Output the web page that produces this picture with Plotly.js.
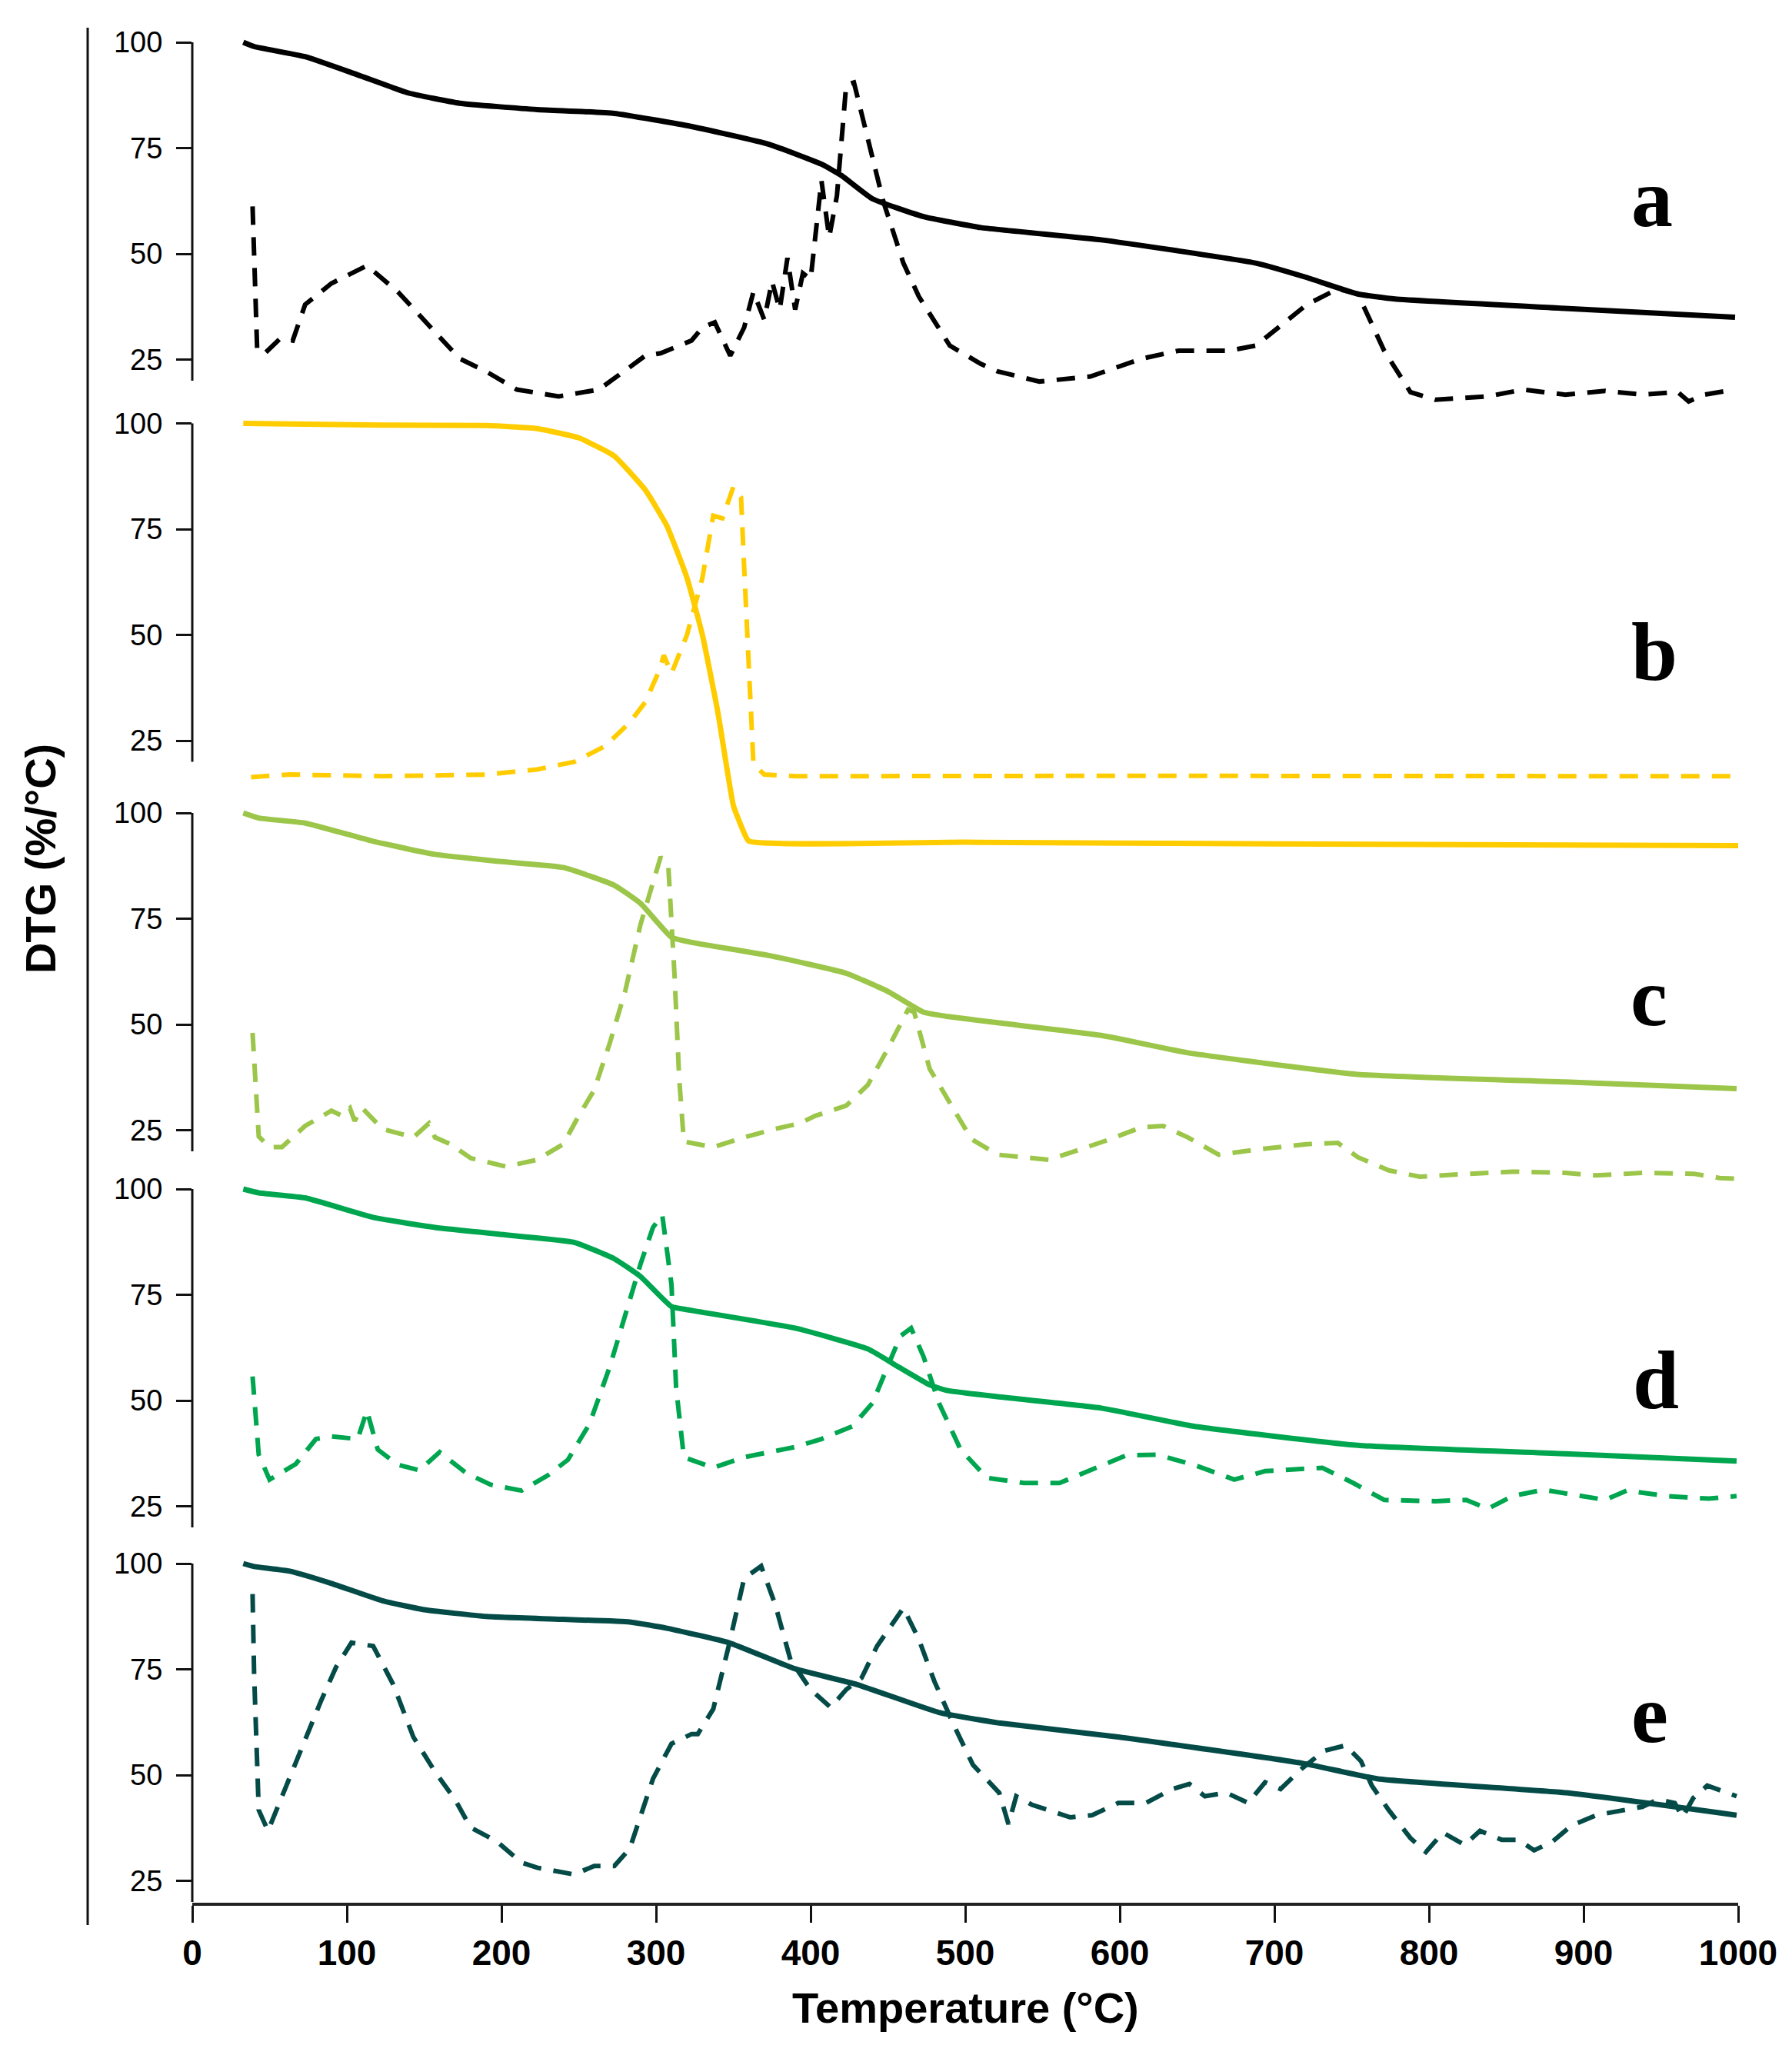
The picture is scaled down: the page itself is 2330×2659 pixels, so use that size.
<!DOCTYPE html>
<html>
<head>
<meta charset="utf-8">
<script src="https://cdn.plot.ly/plotly-3.0.1.min.js"></script>
<style>
  html, body { margin: 0; padding: 0; background: #fff; }
  #chart-container { width: 2330px; height: 2659px; }
</style>
</head>
<body>
<div id="chart-container"></div>
<script>
// panel letters and colours
const panels = ['a', 'b', 'c', 'd', 'e']
const colors = ['#000000', '#FFCC00', '#9CC64A', '#00A64F', '#044B48']

// TG curves (solid), temperature in °C and mass in %
const aTgT = [33, 40, 73, 107, 140, 173, 223, 273, 323, 373, 407, 420, 440, 473, 510, 588, 688, 720, 754, 778, 888, 998]
const aTgV = [100, 99, 96.6, 92.3, 88, 85.6, 84.1, 83.2, 80.1, 75.9, 71.2, 68.5, 63, 58.8, 56.2, 53.3, 47.8, 44.5, 40.5, 39.3, 37.1, 35]
const bTgT = [33, 123, 190, 223, 250, 273, 293, 307, 320, 330, 340, 350, 355, 360, 500, 700, 1000]
const bTgV = [100, 99.6, 99.5, 98.8, 96.6, 92.3, 84.3, 75.8, 63.5, 50, 31.7, 9.7, 4.9, 1.3, 1, 0.6, 0.2]
const cTgT = [33, 43, 73, 117, 157, 197, 240, 273, 290, 310, 323, 373, 423, 450, 473, 488, 521, 588, 644, 754, 888, 999]
const cTgV = [100, 98.8, 97.6, 93.3, 90.2, 88.6, 87.1, 82.9, 78.6, 70.6, 69.4, 66.3, 62.1, 57.8, 52.9, 51.9, 50.4, 47.4, 43.3, 38.2, 36.4, 34.8]
const dTgT = [33, 43, 73, 117, 157, 207, 247, 273, 290, 310, 323, 390, 437, 457, 477, 488, 521, 588, 648, 754, 888, 999]
const dTgV = [100, 99.1, 97.9, 93.3, 90.9, 89, 87.4, 83.5, 79.3, 72.2, 71.3, 67.1, 62.2, 57.9, 53.7, 52.4, 50.9, 48.2, 43.9, 39.4, 37.4, 35.7]
const eTgT = [33, 40, 63, 90, 123, 150, 190, 240, 283, 307, 347, 390, 430, 483, 522, 599, 718, 767, 889, 999]
const eTgV = [100, 99.3, 98.2, 95.3, 91.2, 89.1, 87.5, 86.8, 86.2, 84.7, 81.3, 75.1, 71.4, 64.8, 62.3, 59, 52.8, 49.1, 45.8, 40.5]

// DTG curves (dashed)
const aDtgT = [39, 42, 47, 57, 65, 73, 90, 113, 133, 150, 173, 190, 210, 237, 263, 283, 293, 303, 323, 330,
    338, 348, 357, 363, 370, 375, 380, 385, 390, 395, 400, 407, 412, 417, 423, 428, 437, 447, 460, 470,
    490, 510, 521, 548, 581, 614, 638, 671, 688, 721, 741, 754, 771, 788, 804, 838, 861, 888, 914, 938,
    961, 968, 978, 998]
const aDtgV = [61.2, 27.1, 26.5, 30, 29.5, 38, 43, 47.2, 41, 34.4, 25.2, 22.2, 17.9, 16.3, 17.9, 23.2, 25.9, 26.5, 29.5, 32.6,
    33.8, 25.9, 32.6, 41, 34.4, 43.5, 36.8, 49, 36.8, 45.4, 44, 67.3, 53.9, 63.7, 89.9, 90.5, 77, 62.4, 47.8, 39.9,
    28.3, 24, 22.2, 19.8, 21, 25.2, 27.1, 27.1, 28.3, 38, 41.7, 40.5, 27.1, 17.3, 15.5, 16.3, 17.9, 16.7, 17.6, 16.7,
    17.3, 15.1, 16.7, 17.9]
const bDtgT = [38, 63, 123, 190, 223, 247, 267, 283, 293, 302, 305, 310, 320, 330, 337, 343, 350, 355, 357, 360,
    363, 370, 390, 600, 800, 1000]
const bDtgV = [16.4, 17, 16.6, 17, 18.2, 20, 23.7, 29.3, 34.1, 41.5, 45.2, 40.9, 50, 63.5, 78.2, 77.6, 85, 82.5, 66, 41.5,
    19.5, 17, 16.6, 16.7, 16.6, 16.6]
const cDtgT = [39, 43, 50, 58, 73, 90, 97, 102, 105, 110, 123, 143, 153, 157, 167, 180, 203, 223, 240, 250,
    260, 270, 280, 290, 298, 303, 308, 312, 315, 318, 337, 357, 377, 393, 403, 423, 437, 450, 463, 467,
    477, 491, 504, 521, 554, 574, 594, 614, 628, 644, 664, 688, 721, 741, 754, 774, 794, 821, 854, 888,
    908, 938, 971, 988, 999]
const cDtgV = [48, 23.5, 21, 21, 26, 29.6, 28.4, 30.2, 27.2, 30.2, 25.3, 23.3, 26.6, 23.3, 21.7, 18.4, 16.4, 18, 21.7, 28.4,
    34.5, 45.5, 57.8, 73.7, 83.5, 89.6, 87.1, 61.4, 37, 22.3, 21, 23.3, 25.3, 26.6, 28.4, 30.8, 35.7, 44.3, 53.5, 52.9,
    39.5, 30.8, 22.9, 19.2, 18, 20.4, 22.9, 25.7, 26, 23.3, 19.2, 20.4, 21.7, 22, 18.6, 15.5, 14, 14.6, 15.2, 14.9,
    14.3, 14.9, 14.7, 13.7, 13.5]
const dDtgT = [39, 43, 50, 67, 80, 90, 107, 113, 120, 133, 147, 160, 177, 193, 213, 230, 243, 257, 270, 280,
    290, 298, 304, 310, 313, 318, 337, 357, 373, 390, 407, 427, 440, 450, 458, 465, 473, 483, 497, 514,
    538, 561, 581, 604, 624, 648, 674, 694, 731, 751, 771, 804, 824, 838, 854, 874, 894, 914, 928, 954,
    981, 999]
const dDtgV = [55.7, 37.2, 31.3, 35, 40.9, 41.5, 40.9, 47.6, 38.4, 34.8, 33.5, 37.8, 32.9, 30.1, 28.7, 32.3, 36, 44.5, 57.9, 70.1,
    82.3, 90.9, 93.9, 77.4, 53, 36.6, 34.1, 36.6, 37.8, 39, 40.9, 43.9, 49.4, 57.9, 65.2, 67.1, 60.4, 49.4, 38.4, 31.7,
    30.5, 30.5, 33.5, 37, 37.2, 34.8, 31.3, 33.3, 34.1, 30.5, 26.5, 26.2, 26.5, 24.4, 27.4, 28.9, 27.7, 26.5, 28.7, 27.4,
    26.8, 27.4]
const eDtgT = [39, 40, 43, 49, 60, 70, 83, 93, 103, 117, 130, 143, 157, 170, 180, 197, 213, 223, 247, 260,
    273, 283, 293, 298, 310, 323, 327, 337, 347, 357, 368, 377, 387, 400, 413, 423, 433, 443, 460, 470,
    480, 493, 505, 522, 528, 533, 543, 557, 568, 582, 599, 617, 634, 645, 655, 669, 683, 694, 704, 718,
    732, 746, 756, 763, 774, 788, 798, 809, 823, 833, 847, 858, 868, 880, 892, 908, 920, 938, 948, 959,
    964, 971, 980, 992, 999]
const eDtgV = [92.8, 73.9, 41.7, 36.8, 46.7, 55.7, 67.3, 75.5, 81.3, 80.5, 71.4, 59, 50.8, 44.2, 37.6, 34.3, 29.3, 28.1, 26.5, 28.5,
    28.5, 32.6, 43.4, 49.1, 57.4, 59.7, 59.7, 65.6, 80.5, 96.5, 99.4, 90.4, 77.2, 70.2, 66, 70.2, 73, 80.5, 89.5, 82.1,
    72.2, 61.5, 52.4, 45.8, 38.4, 45, 43, 41.3, 40, 40.5, 43.4, 43.4, 46.7, 47.9, 45, 45.8, 43.4, 48.3, 46.7, 51.6,
    55.7, 57, 53.3, 47.5, 41.7, 35.1, 31.8, 36.4, 33.5, 36.8, 34.7, 34.7, 32.2, 34.3, 38, 40.5, 41.3, 42.5, 44.2, 43.4,
    40, 44.6, 47.5, 45.8, 45]

const yTicks = [25, 50, 75, 100]
const xTicks = [0, 100, 200, 300, 400, 500, 600, 700, 800, 900, 1000]

const tgT = [aTgT, bTgT, cTgT, dTgT, eTgT]
const tgV = [aTgV, bTgV, cTgV, dTgV, eTgV]
const dtgT = [aDtgT, bDtgT, cDtgT, dDtgT, eDtgT]
const dtgV = [aDtgV, bDtgV, cDtgV, dDtgV, eDtgV]

// page geometry (pixels)
const W = 2330, H = 2659
const M = {l: 250, r: 70, t: 20, b: 185}
const plotW = W - M.l - M.r
const plotH = H - M.t - M.b
const pxPerUnit = 5.5
const top100 = [55, 550.6, 1057, 1546, 2033]   // pixel row of the "100" tick of each panel

const px = x => (x - M.l) / plotW
const py = y => (H - M.b - y) / plotH

let data = []
let layout = {
    width: W,
    height: H,
    margin: M,
    paper_bgcolor: '#fff',
    plot_bgcolor: '#fff',
    showlegend: false,
    font: {family: 'Liberation Sans, Arial, sans-serif', color: '#000'},
    xaxis: {
        range: [0, 1000],
        tickvals: xTicks,
        ticks: 'outside',
        ticklen: 22,
        tickwidth: 3,
        tickcolor: '#111',
        showline: true,
        linewidth: 4,
        linecolor: '#222',
        showgrid: false,
        zeroline: false,
        tickfont: {size: 46, weight: 'bold', color: '#000'}
    },
    shapes: [],
    annotations: []
}

panels.forEach((name, i) => {
    const yName = i === 0 ? 'y' : 'y' + (i + 1)
    const axKey = i === 0 ? 'yaxis' : 'yaxis' + (i + 1)
    const lo = 100 - (H - M.b - top100[i]) / pxPerUnit
    const hi = 100 + (top100[i] - M.t) / pxPerUnit
    layout[axKey] = {
        range: [lo, hi],
        tickvals: yTicks,
        ticks: 'outside',
        ticklen: 20,
        tickwidth: 3,
        tickcolor: '#111',
        showline: false,
        showgrid: false,
        zeroline: false,
        ticklabelstandoff: 10,
        tickfont: {size: 38, color: '#000'}
    }
    if (i > 0) {
        layout[axKey].overlaying = 'y'
        layout[axKey].anchor = 'x'
    }
    layout.shapes.push({
        type: 'line', xref: 'paper', yref: yName,
        x0: 0, x1: 0, y0: 20, y1: 100,
        line: {color: '#111', width: 3}
    })

    data.push({
        x: tgT[i], y: tgV[i], yaxis: yName,
        type: 'scatter', mode: 'lines',
        line: {color: colors[i], width: 7, shape: 'spline', smoothing: 0.4}
    })
    data.push({
        x: dtgT[i], y: dtgV[i], yaxis: yName,
        type: 'scatter', mode: 'lines',
        line: {color: colors[i], width: 6, dash: '24px,16px'}
    })
})

// panel letters
const letterPos = [[2148, 258], [2151, 847], [2144, 1296], [2153, 1794], [2145, 2228]]
panels.forEach((name, i) => {
    layout.annotations.push({
        xref: 'paper', yref: 'paper',
        x: px(letterPos[i][0]), y: py(letterPos[i][1]),
        xanchor: 'center', yanchor: 'middle',
        text: '<b>' + name + '</b>',
        showarrow: false,
        font: {family: 'Liberation Serif, Times New Roman, serif', size: 108, color: '#000'}
    })
})

// outer frame line on the left
layout.shapes.push({
    type: 'line', xref: 'paper', yref: 'paper',
    x0: px(114), x1: px(114), y0: py(36), y1: py(2503),
    line: {color: '#111', width: 3}
})

layout.annotations.push({
    xref: 'paper', yref: 'paper',
    x: 0.5, y: py(2610),
    xanchor: 'center', yanchor: 'middle',
    text: '<b>Temperature (°C)</b>',
    showarrow: false,
    font: {size: 56, color: '#000'}
}, {
    xref: 'paper', yref: 'paper',
    x: px(52), y: py(1117),
    xanchor: 'center', yanchor: 'middle',
    textangle: -90,
    text: '<b>DTG (%/°C)</b>',
    showarrow: false,
    font: {size: 56, color: '#000'}
})

Plotly.newPlot('chart-container', data, layout, {staticPlot: true})
</script>
</body>
</html>
